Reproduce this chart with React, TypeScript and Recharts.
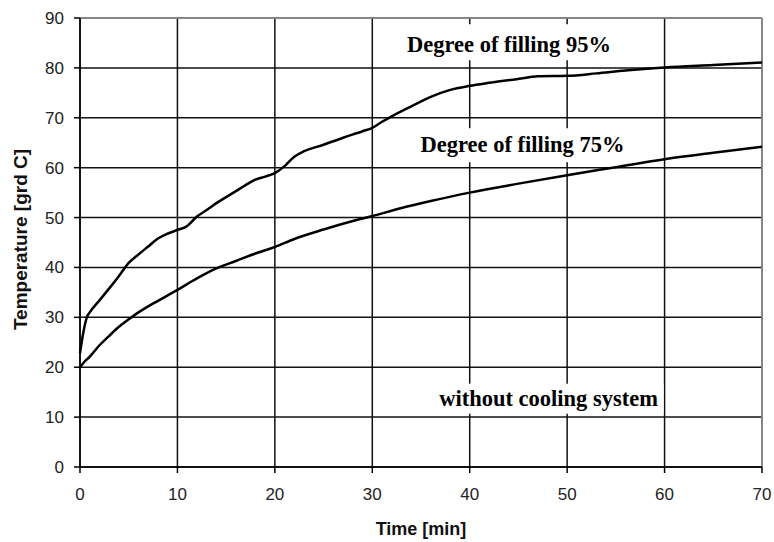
import React from "react";
import {
  LineChart,
  Line,
  XAxis,
  YAxis,
  CartesianGrid,
  ReferenceLine,
  ReferenceDot,
} from "recharts";

// Degree of filling 95%
const time95 = [0, 0.3, 0.7, 1, 2, 3, 4, 5, 6, 7, 8, 9, 10, 11, 12, 13, 14, 15, 16, 17, 18, 19, 20, 21, 22, 23, 25, 27, 29, 30, 31, 32, 34, 36, 38, 40, 42, 45, 47, 50, 53, 56, 60, 65, 70];
const temp95 = [22.8, 26.5, 30, 31, 33.4, 35.8, 38.3, 40.9, 42.6, 44.2, 45.8, 46.8, 47.5, 48.3, 50.2, 51.5, 52.9, 54.1, 55.3, 56.5, 57.6, 58.2, 58.9, 60.3, 62.2, 63.3, 64.6, 66, 67.3, 68, 69.2, 70.3, 72.3, 74.2, 75.6, 76.4, 77, 77.8, 78.3, 78.4, 78.9, 79.5, 80.1, 80.6, 81.1];

// Degree of filling 75%
const time75 = [0, 0.5, 1, 2, 3, 4, 5, 6, 7, 8, 9, 10, 12, 14, 16, 18, 20, 22, 25, 28, 30, 33, 36, 40, 45, 50, 55, 60, 65, 70];
const temp75 = [20, 21.2, 22.1, 24.4, 26.3, 28.1, 29.6, 31, 32.2, 33.3, 34.4, 35.5, 37.8, 39.8, 41.3, 42.8, 44.1, 45.7, 47.6, 49.3, 50.3, 51.9, 53.3, 55, 56.8, 58.5, 60.1, 61.7, 63, 64.2];

const xTicks = [0, 10, 20, 30, 40, 50, 60, 70];
const yTicks = [0, 10, 20, 30, 40, 50, 60, 70, 80, 90];

const labelTexts = ["Degree of filling 95%", "Degree of filling 75%", "without cooling system"];
const labelTimes = [44.03, 45.42, 48.09];
const labelTemps = [84.74, 64.7, 13.69];

const data95 = time95.map((t, i) => ({ t, T: temp95[i] }));
const data75 = time75.map((t, i) => ({ t, T: temp75[i] }));

const tickStyle = { fontFamily: "'Liberation Sans', Arial, sans-serif", fontSize: 17, fill: "#222" };

const AnnotationShape = (text: string, rectH: number, rectTop: number) => (props: any) => {
  const { cx, cy } = props;
  const w = 230;
  return (
    <g>
      <rect x={cx - w / 2} y={cy - rectTop} width={w} height={rectH} fill="#fff" />
      <text
        x={cx}
        y={cy + 7.5}
        textAnchor="middle"
        fontFamily="'Liberation Serif', 'Times New Roman', serif"
        fontWeight="bold"
        fontSize={22.5}
        fill="#000"
      >
        {text}
      </text>
    </g>
  );
};

const rectHeights = [36, 34, 30];
const rectTops = [20, 16, 15];

export default function App() {
  return (
    <div style={{ position: "absolute", left: 0, top: 0, width: 774, height: 542, background: "#fff" }}>
      <LineChart width={774} height={542} margin={{ top: 18, right: 12, left: 0, bottom: 0 }}>
        <CartesianGrid stroke="#111" strokeWidth={1.5} verticalPoints={undefined} />
        <XAxis
          type="number"
          dataKey="t"
          domain={[0, 70]}
          ticks={xTicks}
          interval={0}
          height={75}
          tick={tickStyle}
          tickSize={6}
          tickMargin={15}
          axisLine={{ stroke: "#000", strokeWidth: 1.5 }}
          tickLine={{ stroke: "#000", strokeWidth: 1.5 }}
          label={{
            content: (p: any) => {
              const vb = p.viewBox;
              return (
                <text
                  x={vb.x + vb.width / 2}
                  y={vb.y + 68}
                  textAnchor="middle"
                  fontFamily="'Liberation Sans', Arial, sans-serif"
                  fontWeight="bold"
                  fontSize={18}
                  fill="#111"
                >
                  Time [min]
                </text>
              );
            },
          }}
        />
        <YAxis
          type="number"
          domain={[0, 90]}
          ticks={yTicks}
          interval={0}
          width={80}
          tick={tickStyle}
          tickSize={6}
          tickMargin={10}
          axisLine={{ stroke: "#000", strokeWidth: 1.5 }}
          tickLine={{ stroke: "#000", strokeWidth: 1.5 }}
          label={{
            content: (p: any) => {
              const vb = p.viewBox;
              const cx = vb.x + 27;
              const cy = vb.y + vb.height / 2 - 3;
              return (
                <text
                  x={cx}
                  y={cy}
                  textAnchor="middle"
                  transform={`rotate(-90 ${cx} ${cy})`}
                  fontFamily="'Liberation Sans', Arial, sans-serif"
                  fontWeight="bold"
                  fontSize={19}
                  fill="#111"
                >
                  Temperature [grd C]
                </text>
              );
            },
          }}
        />
        <ReferenceLine y={90} stroke="#9a9a9a" strokeWidth={1.5} />
        <ReferenceLine x={70} stroke="#9a9a9a" strokeWidth={1.5} />
        {labelTexts.map((txt, i) => (
          <ReferenceDot
            key={txt}
            x={labelTimes[i]}
            y={labelTemps[i]}
            r={0}
            ifOverflow="visible"
            shape={AnnotationShape(txt, rectHeights[i], rectTops[i])}
          />
        ))}
        <Line
          data={data95}
          dataKey="T"
          type="monotone"
          stroke="#000"
          strokeWidth={2.5}
          dot={false}
          activeDot={false}
          isAnimationActive={false}
        />
        <Line
          data={data75}
          dataKey="T"
          type="monotone"
          stroke="#000"
          strokeWidth={2.5}
          dot={false}
          activeDot={false}
          isAnimationActive={false}
        />
      </LineChart>
    </div>
  );
}
